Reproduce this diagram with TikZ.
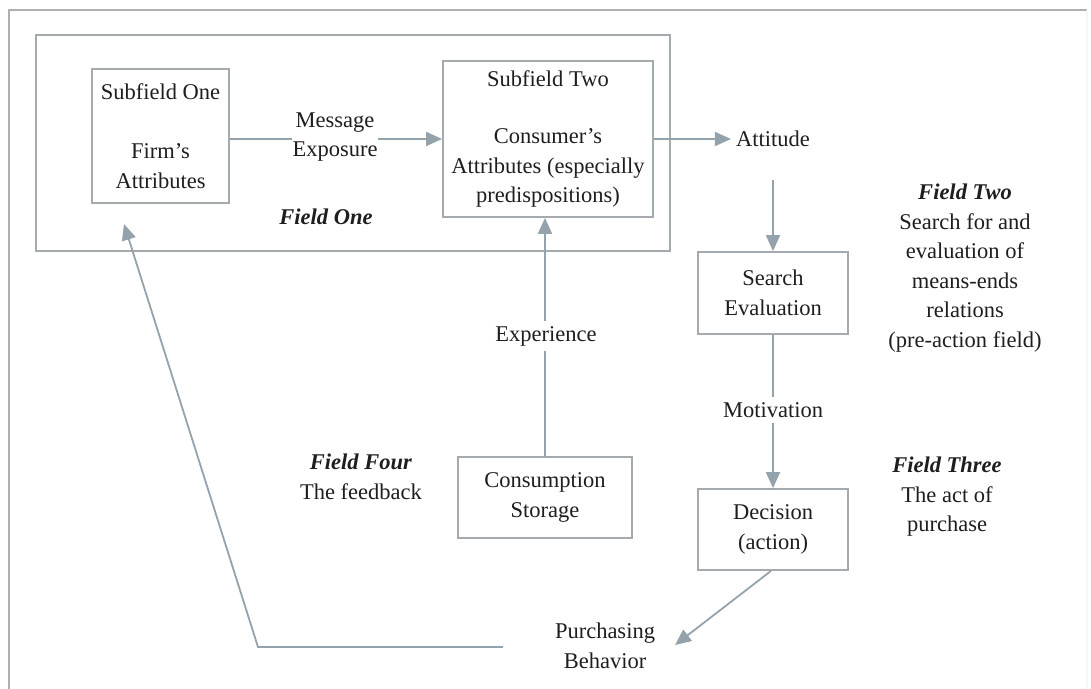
\documentclass[tikz,border=0pt]{standalone}
\usepackage{fontspec}
\setmainfont{Liberation Serif}
\usetikzlibrary{arrows.meta}
\definecolor{linec}{RGB}{148,162,172}
\definecolor{boxc}{RGB}{165,170,175}
\definecolor{framec}{RGB}{172,176,180}
\definecolor{inkc}{RGB}{30,30,30}
\begin{document}
\begin{tikzpicture}[x=1pt,y=-1pt,
  every node/.style={font=\fontsize{22.5}{29.5}\selectfont, text=inkc, align=center, inner sep=0pt},
  box/.style={draw=boxc, line width=1.8pt},
  arr/.style={draw=linec, line width=1.8pt, -{Triangle[length=16pt,width=14pt]}},
  lbl/.style={fill=white, inner xsep=1pt, inner ysep=5pt},
  field/.style={font=\fontsize{22.5}{29.5}\selectfont\bfseries\itshape}
]
\useasboundingbox (0,0) rectangle (1091,688);

% outer frame
\draw[framec, line width=2pt] (9,700) -- (9,10) -- (1087,10);
\draw[framec!12, line width=1.5pt] (1087,10) -- (1087,700);

% field one frame and its two subfields
\node[box, minimum width=634pt, minimum height=216pt] (f1box) at (353,143) {};
\node[box, minimum width=137pt, minimum height=134pt] (sf1) at (160.5,136)
  {Subfield One\\[29.5pt]Firm's\\Attributes};
\node[box, minimum width=210pt, minimum height=156pt] (sf2) at (548,139)
  {Subfield Two\\[28pt]Consumer's\\Attributes (especially\\predispositions)};
\node[field] (f1lbl) at (326,217) {Field One};

% field two
\node[inner xsep=5pt] (att) at (773,139) {Attitude};
\node[box, minimum width=150pt, minimum height=82pt] (search) at (773,293)
  {Search\\Evaluation};
\node (f2lbl) at (965,268) {\textbf{\textit{Field Two}}\\Search for and\\evaluation of\\means-ends\\relations\\(pre-action field)};

% field three
\node[box, minimum width=150pt, minimum height=81pt] (dec) at (773,529.5)
  {Decision\\(action)};
\node (f3lbl) at (947,497) {\textbf{\textit{Field Three}}\\The act of\\purchase};
\node (pb) at (605,646) {Purchasing\\Behavior};

% field four
\node[box, minimum width=174pt, minimum height=81pt] (cs) at (545,497.5)
  {Consumption\\Storage};
\node (f4lbl) at (361,477) {\textbf{\textit{Field Four}}\\The feedback};

% connectors
\draw[arr] (sf1.east |- sf2.west) -- (sf2.west);
\node[lbl] (msg) at (335,137) {Message\\Exposure};

\draw[arr] (sf2.east |- att) -- (att.west);
\draw[arr, shorten <=33pt] (att.south) -- (search.north);

\draw[arr] (search.south) -- (dec.north);
\node[lbl] (mot) at (773,410) {Motivation};

\coordinate (pbtip) at (675,645);
\draw[arr] ([xshift=-2pt]dec.south) -- (pbtip);

\coordinate (fbstart) at (503,647);
\coordinate (fbcorner) at (258,647);
\coordinate (fbtip) at (124,224);
\draw[arr] (fbstart) -- (fbcorner) -- (fbtip);

\draw[arr] (cs.north) -- (cs.north |- sf2.south);
\node[lbl] (exp) at (546,336) {Experience};
\end{tikzpicture}
\end{document}
